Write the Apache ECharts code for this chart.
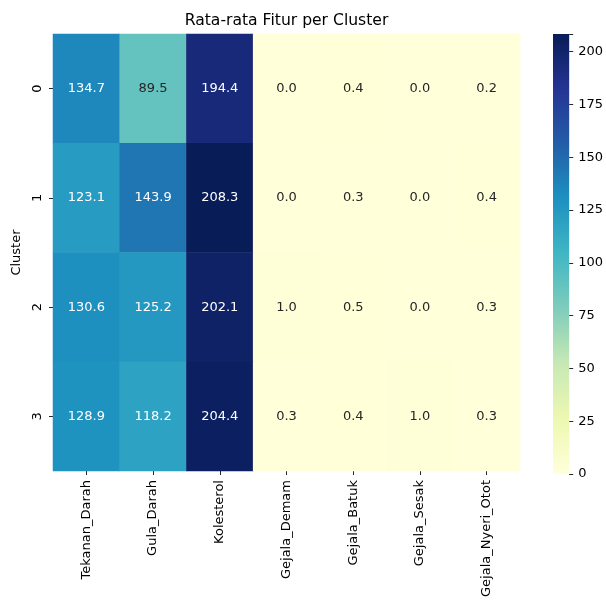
<!DOCTYPE html>
<html>
<head>
<meta charset="utf-8">
<script src="https://cdn.jsdelivr.net/npm/echarts@6/dist/echarts.min.js"></script>
<style>
  html, body { margin: 0; padding: 0; background: #fff; }
  #chart { width: 606px; height: 600px; }
</style>
</head>
<body>
<div id="chart"></div>
<script>
// Mean feature values for each cluster
const features = ['Tekanan_Darah', 'Gula_Darah', 'Kolesterol', 'Gejala_Demam', 'Gejala_Batuk', 'Gejala_Sesak', 'Gejala_Nyeri_Otot'];
const clusters = ['0', '1', '2', '3'];
const cluster0 = [134.7, 89.5, 194.4, 0.0, 0.4, 0.0, 0.2];
const cluster1 = [123.1, 143.9, 208.3, 0.0, 0.3, 0.0, 0.4];
const cluster2 = [130.6, 125.2, 202.1, 1.0, 0.5, 0.0, 0.3];
const cluster3 = [128.9, 118.2, 204.4, 0.3, 0.4, 1.0, 0.3];
const colorbarTicks = [0, 25, 50, 75, 100, 125, 150, 175, 200];

const rows = [cluster0, cluster1, cluster2, cluster3];
const allValues = rows.flat();
const vMin = Math.min(...allValues);
const vMax = Math.max(...allValues);

// YlGnBu palette
const palette = ['#ffffd9', '#edf8b1', '#c7e9b4', '#7fcdbb', '#41b6c4', '#1d91c0', '#225ea8', '#253494', '#081d58'];

function hexToRgb(h) {
  return [parseInt(h.slice(1, 3), 16), parseInt(h.slice(3, 5), 16), parseInt(h.slice(5, 7), 16)];
}
function colorAt(v) {
  let t = (v - vMin) / (vMax - vMin);
  t = Math.max(0, Math.min(1, t));
  const pos = t * (palette.length - 1);
  const i = Math.min(Math.floor(pos), palette.length - 2);
  const f = pos - i;
  const a = hexToRgb(palette[i]), b = hexToRgb(palette[i + 1]);
  return a.map((c, k) => c + (b[k] - c) * f);
}
function luminance(rgb) {
  const lin = rgb.map(c => {
    c = c / 255;
    return c <= 0.03928 ? c / 12.92 : Math.pow((c + 0.055) / 1.055, 2.4);
  });
  return 0.2126 * lin[0] + 0.7152 * lin[1] + 0.0722 * lin[2];
}

const FONT = 'DejaVu Sans';
const FS = 13;
const heatData = [];
rows.forEach((row, y) => {
  row.forEach((v, x) => {
    const lum = luminance(colorAt(v));
    heatData.push({
      value: [x, y, v],
      label: { color: lum > 0.408 ? '#262626' : '#ffffff' }
    });
  });
});

const gridLeft = 53, gridTop = 34, gridW = 467, gridH = 440;

const option = {
  backgroundColor: '#ffffff',
  animation: false,
  textStyle: { fontFamily: FONT },
  graphic: [{
    type: 'text',
    x: gridLeft + gridW / 2,
    y: 21,
    style: {
      text: 'Rata-rata Fitur per Cluster',
      textAlign: 'center',
      textVerticalAlign: 'middle',
      font: '15.6px "DejaVu Sans"',
      fill: '#000000'
    }
  }],
  grid: [
    { left: gridLeft, top: gridTop, width: gridW, height: gridH },
    { left: 553, top: gridTop, width: 19, height: gridH }
  ],
  xAxis: [
    {
      type: 'category',
      gridIndex: 0,
      data: features,
      axisLine: { show: false },
      axisTick: { show: true, alignWithLabel: true, length: 4, lineStyle: { color: '#262626', width: 1 } },
      axisLabel: { rotate: 90, margin: 9, fontSize: FS, color: '#000000', fontFamily: FONT, interval: 0 },
      splitLine: { show: false }
    },
    {
      type: 'category',
      gridIndex: 1,
      data: ['cb'],
      show: false
    }
  ],
  yAxis: [
    {
      type: 'category',
      gridIndex: 0,
      data: clusters,
      inverse: true,
      name: 'Cluster',
      nameLocation: 'middle',
      nameGap: 28,
      nameRotate: 90,
      nameTextStyle: { fontSize: FS, color: '#000000', fontFamily: FONT },
      axisLine: { show: false },
      axisTick: { show: true, alignWithLabel: true, length: 4, lineStyle: { color: '#262626', width: 1 } },
      axisLabel: { rotate: 90, margin: 9, fontSize: FS, color: '#000000', fontFamily: FONT },
      splitLine: { show: false }
    },
    {
      type: 'value',
      gridIndex: 1,
      position: 'right',
      min: 0,
      max: vMax,
      interval: 25,
      axisLine: { show: false },
      axisTick: { show: true, length: 4, lineStyle: { color: '#262626', width: 1 } },
      axisLabel: {
        margin: 9, fontSize: FS, color: '#000000', fontFamily: FONT,
        formatter: v => (colorbarTicks.includes(v) ? String(v) : '')
      },
      splitLine: { show: false }
    }
  ],
  visualMap: {
    show: false,
    type: 'continuous',
    seriesIndex: 0,
    dimension: 2,
    min: vMin,
    max: vMax,
    inRange: { color: palette }
  },
  series: [
    {
      type: 'heatmap',
      xAxisIndex: 0,
      yAxisIndex: 0,
      data: heatData,
      label: {
        show: true,
        fontSize: FS,
        fontFamily: FONT,
        formatter: p => p.value[2].toFixed(1)
      },
      itemStyle: { borderWidth: 0 },
      emphasis: { disabled: true }
    },
    {
      // colour bar
      type: 'bar',
      xAxisIndex: 1,
      yAxisIndex: 1,
      data: [vMax],
      barWidth: '100%',
      silent: true,
      itemStyle: {
        color: new echarts.graphic.LinearGradient(0, 1, 0, 0,
          palette.map((c, i) => ({ offset: i / (palette.length - 1), color: c })))
      }
    }
  ]
};

const chart = echarts.init(document.getElementById('chart'), null, { renderer: 'canvas' });
chart.setOption(option);
</script>
</body>
</html>
